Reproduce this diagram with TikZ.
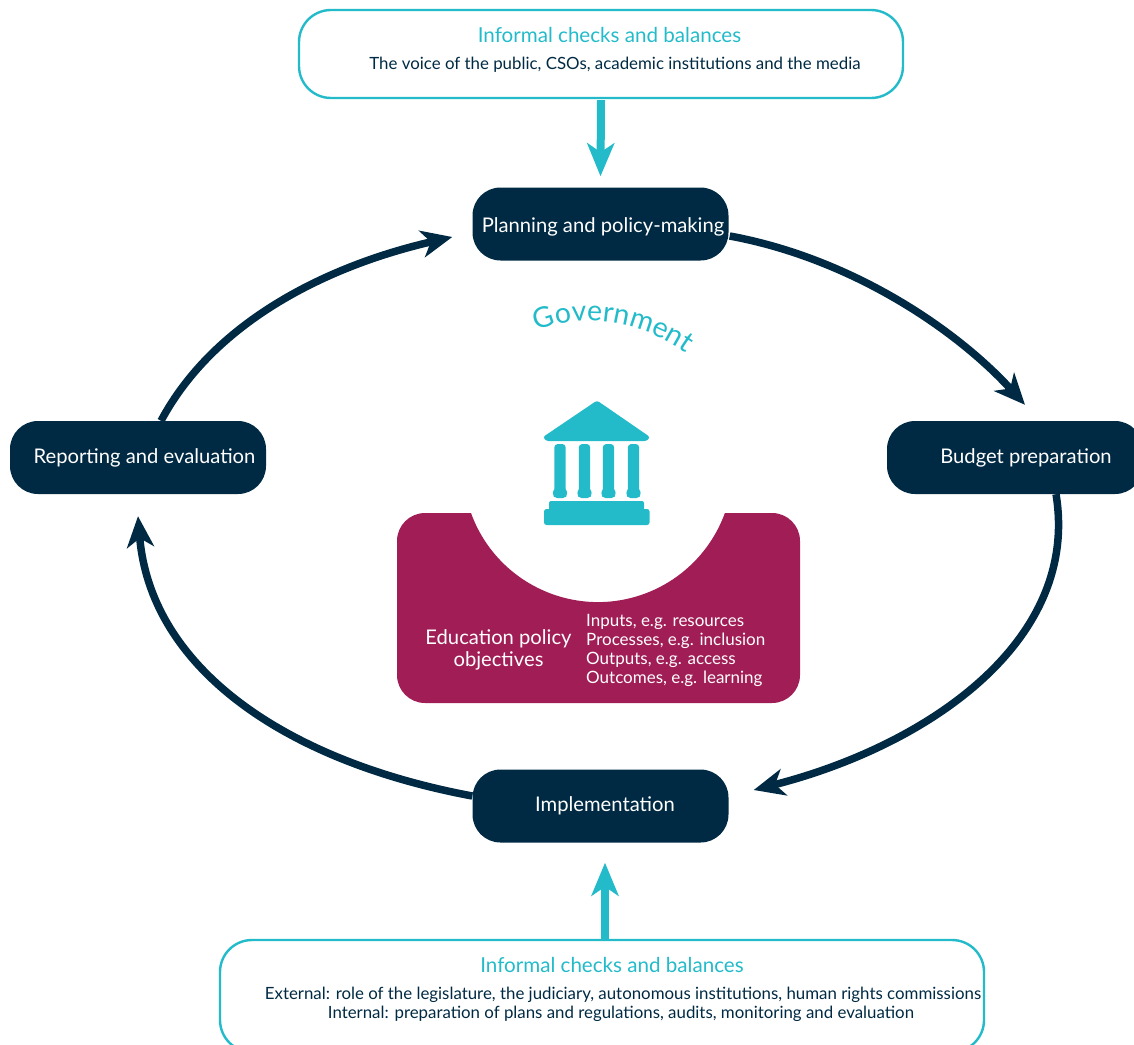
\documentclass[tikz,border=0pt]{standalone}
\usepackage{fontspec}
\setmainfont{Lato}
\usetikzlibrary{arrows.meta,calc,decorations.text}
\definecolor{navy}{HTML}{002A43}
\definecolor{tealc}{HTML}{23BBCA}
\definecolor{plum}{HTML}{A11D56}
\tikzset{
  stagebox/.style={fill=navy,rounded corners=28pt,minimum width=256pt,minimum height=73pt,text=white,inner sep=0pt,font=\fontsize{20.2}{22}\selectfont},
  checkbox/.style={draw=tealc,line width=2.4pt,rounded corners=32pt,inner sep=0pt},
  cycleflow/.style={draw=navy,line width=7.5pt,-{Stealth[length=31pt,width=27pt,inset=9pt]}},
  checkflow/.style={draw=tealc,line width=8pt,-{Stealth[length=33pt,width=27pt,inset=9pt]}},
  checktitle/.style={text=tealc,inner sep=0pt,font=\fontsize{20.6}{22}\selectfont},
  checktext/.style={text=navy,inner sep=0pt,font=\fontsize{16.85}{19}\selectfont},
  plumtext/.style={text=white,inner sep=0pt,align=left,font=\fontsize{17}{19.2}\selectfont}
}
\begin{document}
\begin{tikzpicture}[x=1pt,y=-1pt]
\useasboundingbox (0,0) rectangle (1134,1044);
\clip (0,0) rectangle (1134,1044);
% stages
\node[stagebox] (plan) at (600.5,224) {\hspace*{5pt}\rule{0pt}{21pt}Planning and policy-making};
\node[stagebox] (report) at (138,457.5) {\hspace*{13pt}Reporting and evaluation};
\node[stagebox] (budget) at (1015,457.5) {\hspace*{22pt}Budget preparation};
\node[stagebox] (impl) at (600.5,806) {\hspace*{9pt}Implementation};
% check boxes
\node[checkbox,minimum width=604pt,minimum height=88pt] (topbox) at (601,54) {};
\node[checkbox,minimum width=764pt,minimum height=112pt] (botbox) at (602,996) {};
\node[checktitle] (toptitle) at (609.5,35) {Informal checks and balances};
\node[checktext] (toptext) at (615,65) {The voice of the public, CSOs, academic institutions and the media};
\node[checktitle] (bottitle) at (612,965) {Informal checks and balances};
\node[checktext] (botone) at (623,995) {External: role of the legislature, the judiciary, autonomous institutions, human rights commissions};
\node[checktext] (bottwo) at (621,1014) {Internal: preparation of plans and regulations, audits, monitoring and evaluation};
% cycle
\draw[cycleflow] ($(plan.east)+(1,12)$) .. controls +(120,22) and (955,328) .. ($(budget.north)+(10,-16)$);
\draw[cycleflow] ($(budget.south)+(41,0)$) .. controls (1080,640) and (930,745) .. ($(impl.east)+(25,-16)$);
\draw[cycleflow] ($(impl.west)+(0,-10)$) .. controls (280,760) and (150,665) .. ($(report.south)+(0,22)$);
\draw[cycleflow] ($(report.north)+(23,0)$) .. controls (215,320) and (330,265) .. ($(plan.west)+(-20,13)$);
% external flows
\draw[checkflow] (topbox.south) ++(0,1) -- ($(plan.north)+(0,-11)$);
\draw[checkflow] ($(botbox.north)+(3,0)$) -- ($(impl.south)+(4.5,20)$);
% education block
\fill[plum] (471,513) arc[start angle=199.9,end angle=340.1,radius=135pt] -- (725,513)
  {[rounded corners=28pt] -- (800,513) -- (800,703) -- (397,703) -- (397,513)} -- cycle;
\node[plumtext,align=center,font=\fontsize{20.2}{22}\selectfont] (objectives) at (498.5,650) {Education policy\\objectives};
\node[plumtext,anchor=west] (measures) at (586,650.5) {Inputs, e.g. resources\\Processes, e.g. inclusion\\Outputs, e.g. access\\Outcomes, e.g. learning};
% government label
\begin{scope}
\fontsize{28.5}{30}\selectfont
\path[decorate,decoration={text along path,text align=center,text color=tealc,text={Government}}]
  (529,335) .. controls (575,311) and (640,317) .. (693,358);
\end{scope}
% building icon
\begin{scope}[fill=tealc]
\fill[rounded corners=2.5pt] (597,400.5) -- (650,437) -- (647,441) -- (546,441) -- (543,437) -- cycle;
\foreach \cx in {560,584.5,608.5,633.5}{
  \fill[rounded corners=3.5pt] (\cx-5.7,444) rectangle (\cx+5.7,492);
  \fill[rounded corners=5pt] (\cx-5.7,486) -- (\cx+5.7,486) -- (\cx+8,498) -- (\cx-8,498) -- cycle;
}
\fill[rounded corners=2pt] (549,501) rectangle (644,512);
\fill[rounded corners=2.5pt] (544,509) rectangle (649.5,525);
\end{scope}
\end{tikzpicture}
\end{document}
